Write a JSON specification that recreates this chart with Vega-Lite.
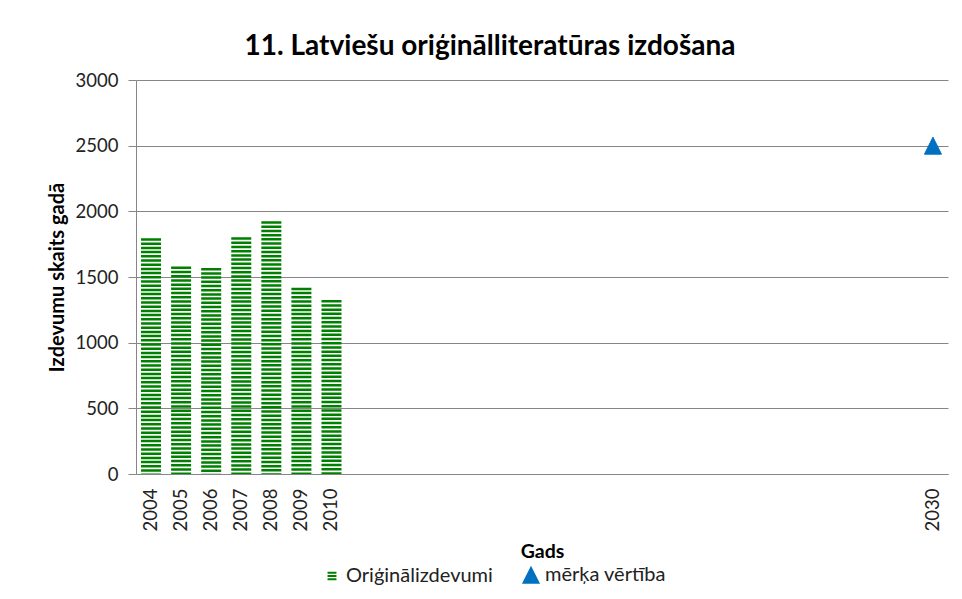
{
  "$schema": "https://vega.github.io/schema/vega-lite/v6.json",
  "width": 812,
  "height": 394,
  "autosize": "none",
  "padding": {"left": 136, "top": 80, "right": 14, "bottom": 125},
  "background": "white",
  "config": {
    "view": {"stroke": null},
    "axis": {"domainColor": "#868686", "gridColor": "#868686", "tickColor": "#868686", "labelFont": "Lato", "titleFont": "Lato", "labelColor": "#222222", "titleColor": "#000000"}
  },
  "title": {"text": "11. Latviešu oriģinālliteratūras izdošana", "font": "Lato", "fontSize": 28, "fontWeight": "bold", "color": "#000000", "anchor": "middle", "dx": -52, "offset": 10},
  "datasets": {
    "bars": [
      {"year": 2004, "value": 1795},
      {"year": 2005, "value": 1579},
      {"year": 2006, "value": 1569},
      {"year": 2007, "value": 1802},
      {"year": 2008, "value": 1924},
      {"year": 2009, "value": 1419},
      {"year": 2010, "value": 1325}
    ],
    "target": [
      {"year": 2030, "value": 2500, "series": "mērķa vērtība"}
    ]
  },
  "layer": [
    {
      "data": {"name": "bars"},
      "mark": {"type": "rule", "strokeWidth": 20, "strokeDash": [2.5, 1.7], "color": "#008000"},
      "encoding": {
        "x": {
          "field": "year", "type": "ordinal",
          "scale": {"domain": [2004,2005,2006,2007,2008,2009,2010,2011,2012,2013,2014,2015,2016,2017,2018,2019,2020,2021,2022,2023,2024,2025,2026,2027,2028,2029,2030]},
          "axis": {"title": "Gads", "labelAngle": -90, "ticks": false, "grid": false, "labelPadding": 14, "labelFontSize": 18.5,
                   "labelExpr": "datum.value <= 2010 || datum.value == 2030 ? datum.label : ''",
                   "titleFontSize": 19.5, "titleFontWeight": "bold", "titlePadding": 12}
        },
        "y": {
          "field": "value", "type": "quantitative",
          "scale": {"domain": [0, 3000], "nice": false},
          "axis": {"title": "Izdevumu skaits gadā", "values": [0,500,1000,1500,2000,2500,3000], "format": "d", "tickSize": 8, "labelPadding": 10, "labelFontSize": 18.5,
                   "titleFontSize": 20, "titleFontWeight": "bold", "titlePadding": 8, "grid": true}
        },
        "y2": {"datum": 0}
      }
    },
    {
      "data": {"name": "target"},
      "mark": {"type": "point", "filled": true, "size": 289, "strokeWidth": 1, "opacity": 1},
      "encoding": {
        "x": {"field": "year", "type": "ordinal"},
        "y": {"field": "value", "type": "quantitative"},
        "fill": {"field": "series", "type": "nominal",
                 "scale": {"domain": ["Oriģinālizdevumi", "mērķa vērtība"], "range": ["#008000", "#0070C0"]},
                 "legend": {"orient": "none", "legendX": 186, "legendY": 485, "direction": "horizontal", "title": null,
                            "labelFont": "Lato", "labelFontSize": 20, "labelColor": "#222222", "labelOffset": 4, "symbolSize": 220, "symbolStrokeWidth": 2, "columnPadding": 26}},
        "stroke": {"field": "series", "type": "nominal",
                   "scale": {"domain": ["Oriģinālizdevumi", "mērķa vērtība"], "range": ["#008000", "#0070C0"]}},
        "shape": {"field": "series", "type": "nominal",
                  "scale": {"domain": ["Oriģinālizdevumi", "mērķa vērtība"], "range": ["M-0.6,-0.45H0.6M-0.6,0H0.6M-0.6,0.45H0.6", "M0,-1L1,1L-1,1Z"]}}
      }
    }
  ]
}
